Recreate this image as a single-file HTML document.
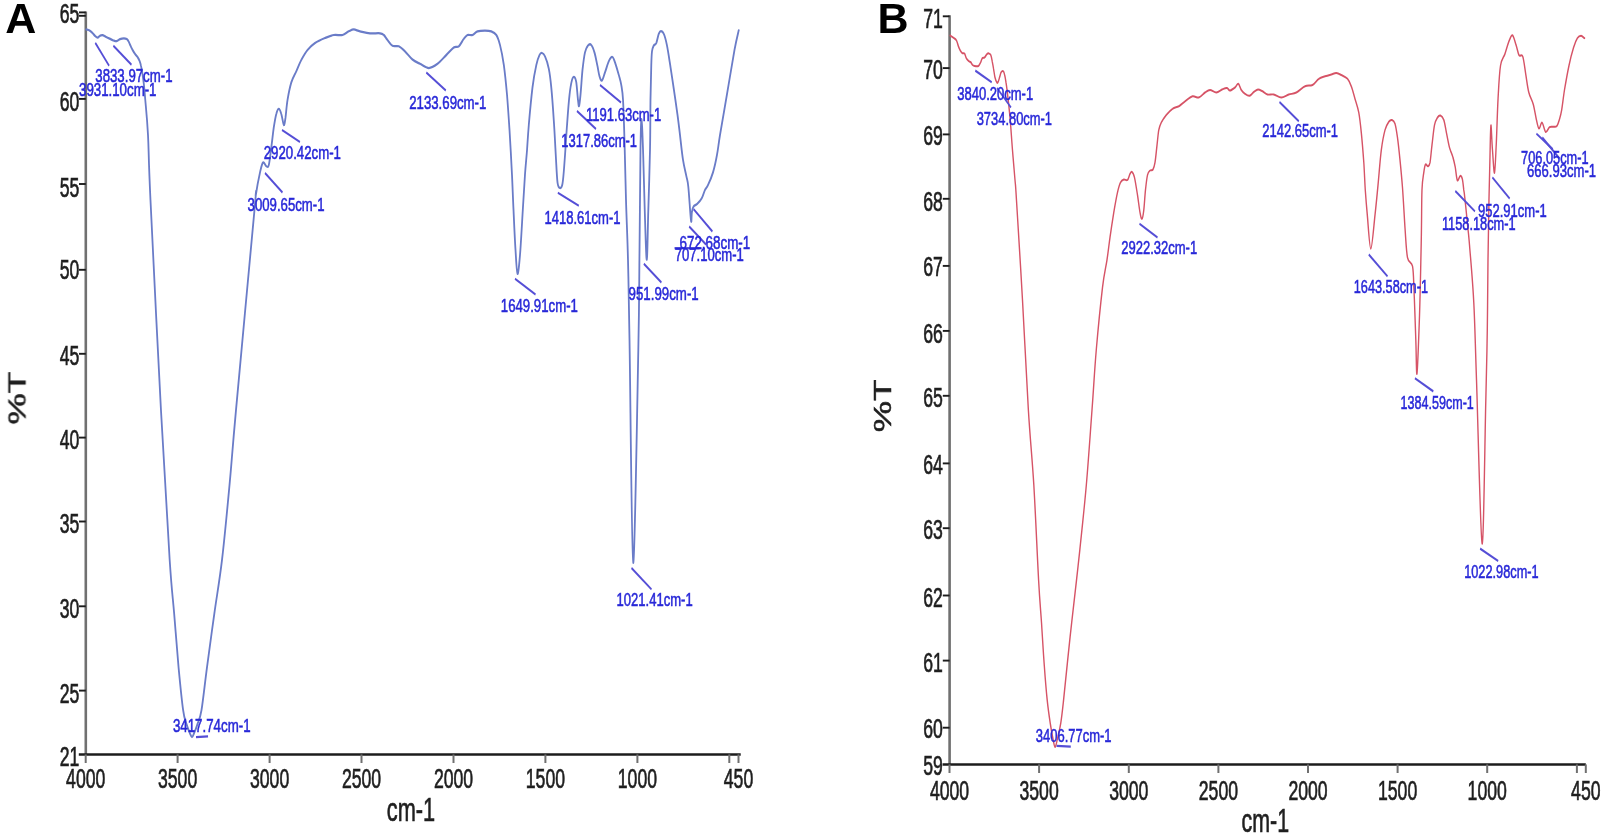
<!DOCTYPE html>
<html lang="en"><head><meta charset="utf-8"><title>FTIR spectra A and B</title>
<style>
html,body{margin:0;padding:0;background:#fff;}
body{width:1606px;height:839px;overflow:hidden;}
svg{display:block;}
text{font-family:"Liberation Sans",sans-serif;}
.tk{fill:#1f1f1f;font-size:28px;stroke:#1f1f1f;stroke-width:0.6px;vector-effect:non-scaling-stroke;}
.pk{fill:#2828d8;font-size:18px;stroke:#2828d8;stroke-width:0.55px;}
.ax{fill:#1f1f1f;font-size:34px;stroke:#1f1f1f;stroke-width:0.7px;}
.pt{fill:#1e1e1e;font-size:24px;stroke:#1e1e1e;stroke-width:0.5px;}
.pl{fill:#000;font-size:43px;font-weight:bold;}
</style></head><body>
<svg width="1606" height="839" viewBox="0 0 1606 839">
<rect width="1606" height="839" fill="#ffffff"/>
<g style="filter:blur(0.55px)">
<g stroke-linecap="butt" fill="none">
<line x1="85.8" y1="11.4" x2="85.8" y2="754.4" stroke="#707070" stroke-width="2.6"/>
<line x1="78.8" y1="754.4" x2="740.7" y2="754.4" stroke="#1c1c1c" stroke-width="2.5"/>
<line x1="79.0" y1="12.4" x2="85.8" y2="12.4" stroke="#1c1c1c" stroke-width="1.9"/>
<line x1="79.0" y1="15.8" x2="85.8" y2="15.8" stroke="#1c1c1c" stroke-width="1.9"/>
<line x1="79.0" y1="98.9" x2="85.8" y2="98.9" stroke="#1c1c1c" stroke-width="1.9"/>
<line x1="79.0" y1="184.0" x2="85.8" y2="184.0" stroke="#1c1c1c" stroke-width="1.9"/>
<line x1="79.0" y1="269.8" x2="85.8" y2="269.8" stroke="#1c1c1c" stroke-width="1.9"/>
<line x1="79.0" y1="353.8" x2="85.8" y2="353.8" stroke="#1c1c1c" stroke-width="1.9"/>
<line x1="79.0" y1="437.6" x2="85.8" y2="437.6" stroke="#1c1c1c" stroke-width="1.9"/>
<line x1="79.0" y1="521.5" x2="85.8" y2="521.5" stroke="#1c1c1c" stroke-width="1.9"/>
<line x1="79.0" y1="606.3" x2="85.8" y2="606.3" stroke="#1c1c1c" stroke-width="1.9"/>
<line x1="79.0" y1="690.6" x2="85.8" y2="690.6" stroke="#1c1c1c" stroke-width="1.9"/>
<line x1="85.7" y1="754.4" x2="85.7" y2="763.0" stroke="#707070" stroke-width="2"/>
<line x1="177.6" y1="754.4" x2="177.6" y2="763.0" stroke="#707070" stroke-width="2"/>
<line x1="269.6" y1="754.4" x2="269.6" y2="763.0" stroke="#707070" stroke-width="2"/>
<line x1="361.5" y1="754.4" x2="361.5" y2="763.0" stroke="#707070" stroke-width="2"/>
<line x1="453.5" y1="754.4" x2="453.5" y2="763.0" stroke="#707070" stroke-width="2"/>
<line x1="545.4" y1="754.4" x2="545.4" y2="763.0" stroke="#707070" stroke-width="2"/>
<line x1="637.4" y1="754.4" x2="637.4" y2="763.0" stroke="#707070" stroke-width="2"/>
<line x1="729.3" y1="754.4" x2="729.3" y2="763.0" stroke="#707070" stroke-width="2"/>
<line x1="738.5" y1="754.4" x2="738.5" y2="763.0" stroke="#707070" stroke-width="2"/>
</g>
<text class="tk" transform="translate(79.3 22.9) scale(0.630 1)" text-anchor="end">65</text>
<text class="tk" transform="translate(79.3 110.6) scale(0.630 1)" text-anchor="end">60</text>
<text class="tk" transform="translate(79.3 196.9) scale(0.630 1)" text-anchor="end">55</text>
<text class="tk" transform="translate(79.3 278.8) scale(0.630 1)" text-anchor="end">50</text>
<text class="tk" transform="translate(79.3 365.1) scale(0.630 1)" text-anchor="end">45</text>
<text class="tk" transform="translate(79.3 449.1) scale(0.630 1)" text-anchor="end">40</text>
<text class="tk" transform="translate(79.3 532.7) scale(0.630 1)" text-anchor="end">35</text>
<text class="tk" transform="translate(79.3 618.2) scale(0.630 1)" text-anchor="end">30</text>
<text class="tk" transform="translate(79.3 702.7) scale(0.630 1)" text-anchor="end">25</text>
<text class="tk" transform="translate(79.3 765.9) scale(0.630 1)" text-anchor="end">21</text>
<text class="tk" transform="translate(85.7 788.4) scale(0.630 1)" text-anchor="middle">4000</text>
<text class="tk" transform="translate(177.6 788.4) scale(0.630 1)" text-anchor="middle">3500</text>
<text class="tk" transform="translate(269.6 788.4) scale(0.630 1)" text-anchor="middle">3000</text>
<text class="tk" transform="translate(361.5 788.4) scale(0.630 1)" text-anchor="middle">2500</text>
<text class="tk" transform="translate(453.5 788.4) scale(0.630 1)" text-anchor="middle">2000</text>
<text class="tk" transform="translate(545.4 788.4) scale(0.630 1)" text-anchor="middle">1500</text>
<text class="tk" transform="translate(637.4 788.4) scale(0.630 1)" text-anchor="middle">1000</text>
<text class="tk" transform="translate(738.5 788.4) scale(0.630 1)" text-anchor="middle">450</text>
<g stroke-linecap="butt" fill="none">
<line x1="949.6" y1="15.3" x2="949.6" y2="764.4" stroke="#707070" stroke-width="2.6"/>
<line x1="942.6" y1="764.4" x2="1585.8" y2="764.4" stroke="#1c1c1c" stroke-width="2.5"/>
<line x1="942.8" y1="16.3" x2="949.6" y2="16.3" stroke="#1c1c1c" stroke-width="1.9"/>
<line x1="942.8" y1="68.1" x2="949.6" y2="68.1" stroke="#1c1c1c" stroke-width="1.9"/>
<line x1="942.8" y1="134.4" x2="949.6" y2="134.4" stroke="#1c1c1c" stroke-width="1.9"/>
<line x1="942.8" y1="198.8" x2="949.6" y2="198.8" stroke="#1c1c1c" stroke-width="1.9"/>
<line x1="942.8" y1="265.9" x2="949.6" y2="265.9" stroke="#1c1c1c" stroke-width="1.9"/>
<line x1="942.8" y1="330.9" x2="949.6" y2="330.9" stroke="#1c1c1c" stroke-width="1.9"/>
<line x1="942.8" y1="395.8" x2="949.6" y2="395.8" stroke="#1c1c1c" stroke-width="1.9"/>
<line x1="942.8" y1="463.4" x2="949.6" y2="463.4" stroke="#1c1c1c" stroke-width="1.9"/>
<line x1="942.8" y1="528.2" x2="949.6" y2="528.2" stroke="#1c1c1c" stroke-width="1.9"/>
<line x1="942.8" y1="595.5" x2="949.6" y2="595.5" stroke="#1c1c1c" stroke-width="1.9"/>
<line x1="942.8" y1="660.6" x2="949.6" y2="660.6" stroke="#1c1c1c" stroke-width="1.9"/>
<line x1="942.8" y1="727.7" x2="949.6" y2="727.7" stroke="#1c1c1c" stroke-width="1.9"/>
<line x1="949.5" y1="764.4" x2="949.5" y2="773.0" stroke="#707070" stroke-width="2"/>
<line x1="1039.1" y1="764.4" x2="1039.1" y2="773.0" stroke="#707070" stroke-width="2"/>
<line x1="1128.8" y1="764.4" x2="1128.8" y2="773.0" stroke="#707070" stroke-width="2"/>
<line x1="1218.4" y1="764.4" x2="1218.4" y2="773.0" stroke="#707070" stroke-width="2"/>
<line x1="1308.0" y1="764.4" x2="1308.0" y2="773.0" stroke="#707070" stroke-width="2"/>
<line x1="1397.6" y1="764.4" x2="1397.6" y2="773.0" stroke="#707070" stroke-width="2"/>
<line x1="1487.2" y1="764.4" x2="1487.2" y2="773.0" stroke="#707070" stroke-width="2"/>
<line x1="1576.9" y1="764.4" x2="1576.9" y2="773.0" stroke="#707070" stroke-width="2"/>
<line x1="1585.8" y1="764.4" x2="1585.8" y2="773.0" stroke="#707070" stroke-width="2"/>
</g>
<text class="tk" transform="translate(942.8 27.6) scale(0.630 1)" text-anchor="end">71</text>
<text class="tk" transform="translate(942.8 78.6) scale(0.630 1)" text-anchor="end">70</text>
<text class="tk" transform="translate(942.8 145.3) scale(0.630 1)" text-anchor="end">69</text>
<text class="tk" transform="translate(942.8 210.7) scale(0.630 1)" text-anchor="end">68</text>
<text class="tk" transform="translate(942.8 275.8) scale(0.630 1)" text-anchor="end">67</text>
<text class="tk" transform="translate(942.8 342.5) scale(0.630 1)" text-anchor="end">66</text>
<text class="tk" transform="translate(942.8 407.1) scale(0.630 1)" text-anchor="end">65</text>
<text class="tk" transform="translate(942.8 474.0) scale(0.630 1)" text-anchor="end">64</text>
<text class="tk" transform="translate(942.8 539.1) scale(0.630 1)" text-anchor="end">63</text>
<text class="tk" transform="translate(942.8 607.1) scale(0.630 1)" text-anchor="end">62</text>
<text class="tk" transform="translate(942.8 671.5) scale(0.630 1)" text-anchor="end">61</text>
<text class="tk" transform="translate(942.8 738.4) scale(0.630 1)" text-anchor="end">60</text>
<text class="tk" transform="translate(942.8 775.0) scale(0.630 1)" text-anchor="end">59</text>
<text class="tk" transform="translate(949.5 799.5) scale(0.630 1)" text-anchor="middle">4000</text>
<text class="tk" transform="translate(1039.1 799.5) scale(0.630 1)" text-anchor="middle">3500</text>
<text class="tk" transform="translate(1128.8 799.5) scale(0.630 1)" text-anchor="middle">3000</text>
<text class="tk" transform="translate(1218.4 799.5) scale(0.630 1)" text-anchor="middle">2500</text>
<text class="tk" transform="translate(1308.0 799.5) scale(0.630 1)" text-anchor="middle">2000</text>
<text class="tk" transform="translate(1397.6 799.5) scale(0.630 1)" text-anchor="middle">1500</text>
<text class="tk" transform="translate(1487.2 799.5) scale(0.630 1)" text-anchor="middle">1000</text>
<text class="tk" transform="translate(1585.8 799.5) scale(0.630 1)" text-anchor="middle">450</text>
<g transform="scale(0.800 1)" fill="none" stroke-linejoin="round" stroke-linecap="round">
<path d="M107.8 29.5C108.4 29.7 110.6 29.9 111.9 30.5C113.2 31.1 114.3 31.9 115.5 32.9C116.7 33.9 118.0 35.4 119.1 36.2C120.2 37.0 121.0 37.7 122.0 37.6C123.0 37.5 124.0 36.1 125.0 35.7C126.0 35.3 126.8 34.9 128.0 35.1C129.2 35.3 130.6 36.1 132.1 36.7C133.6 37.3 135.4 38.0 137.0 38.6C138.6 39.2 140.3 40.1 141.8 40.5C143.2 40.9 144.5 41.4 145.9 41.2C147.2 41.0 148.5 39.6 150.0 39.1C151.5 38.6 153.5 38.3 154.9 38.3C156.3 38.3 157.4 38.6 158.4 39.1C159.4 39.6 160.0 40.3 160.7 41.4C161.5 42.5 162.2 44.2 163.1 45.7C164.0 47.2 165.1 49.1 166.1 50.5C167.1 51.9 168.1 53.2 169.1 54.3C170.1 55.4 171.2 56.1 172.1 57.2C173.0 58.3 173.8 59.6 174.5 61.0C175.2 62.4 175.7 63.7 176.2 65.8C176.8 67.9 177.4 70.2 178.0 73.4C178.6 76.6 179.3 80.4 179.9 84.8C180.5 89.2 180.8 91.6 181.6 100.0C182.5 108.4 183.9 118.3 185.0 135.0C186.1 151.7 185.4 154.2 188.1 200.0C190.8 245.8 197.2 350.0 201.2 410.0C205.2 470.0 209.4 526.0 212.1 560.0C214.9 594.0 215.9 595.8 217.7 613.7C219.6 631.6 221.4 651.2 223.2 667.3C225.1 683.3 227.2 700.5 228.9 710.0C230.5 719.5 231.7 720.2 233.1 724.0C234.5 727.8 236.1 730.8 237.2 733.0C238.4 735.2 239.1 737.2 240.0 737.2C240.9 737.2 241.6 735.2 242.7 733.0C243.9 730.8 245.4 727.8 246.9 724.0C248.4 720.2 249.9 719.5 251.9 710.0C253.9 700.5 256.1 683.0 258.8 667.0C261.4 651.0 264.8 631.5 267.9 613.7C271.0 595.9 274.3 581.5 277.5 560.0C280.7 538.5 284.0 510.0 286.9 485.0C289.8 460.0 289.8 455.8 295.0 410.0C300.2 364.2 314.0 245.8 318.1 210.0C322.2 174.2 318.6 201.2 319.8 195.0C320.9 188.8 323.5 177.9 325.0 172.5C326.5 167.1 327.4 163.5 328.8 162.5C330.1 161.5 331.7 165.9 332.9 166.3C334.1 166.7 335.0 168.1 336.0 165.0C337.0 161.9 338.1 153.8 339.1 147.5C340.2 141.2 341.2 133.1 342.2 127.5C343.3 121.9 344.3 116.9 345.4 113.8C346.4 110.7 347.5 108.8 348.5 108.8C349.5 108.8 350.6 111.1 351.6 113.8C352.7 116.5 353.9 124.4 354.8 125.0C355.6 125.6 356.1 121.7 356.9 117.5C357.6 113.3 358.2 105.8 359.4 100.0C360.6 94.2 362.3 87.3 364.1 82.5C366.0 77.7 368.3 75.0 370.4 71.3C372.5 67.5 374.3 63.5 376.6 60.0C379.0 56.5 381.5 52.8 384.4 50.0C387.2 47.2 390.1 45.0 393.8 43.0C397.4 41.0 402.3 39.3 406.2 38.0C410.2 36.7 413.6 35.5 417.2 35.0C420.9 34.5 425.0 35.6 428.1 35.0C431.2 34.4 433.6 32.2 436.0 31.3C438.4 30.4 439.9 29.5 442.2 29.5C444.6 29.5 446.6 30.7 450.0 31.3C453.4 31.9 458.3 33.0 462.5 33.3C466.7 33.6 472.1 33.0 475.0 33.3C477.9 33.6 478.2 33.9 479.8 35.0C481.3 36.1 482.6 38.2 484.4 40.0C486.2 41.8 488.3 44.8 490.6 45.8C493.0 46.8 495.9 45.4 498.5 46.3C501.1 47.2 503.4 49.1 506.2 51.3C509.1 53.5 512.5 57.4 515.6 59.5C518.8 61.6 521.6 62.4 525.0 63.8C528.4 65.2 532.4 68.0 536.0 68.0C539.6 68.0 543.2 66.0 546.9 63.8C550.5 61.6 554.5 57.7 557.9 55.0C561.3 52.3 564.6 49.0 567.2 47.5C569.9 46.0 571.4 47.8 573.5 46.3C575.6 44.8 577.9 40.7 579.8 38.8C581.6 36.9 582.6 35.6 584.4 35.0C586.2 34.4 588.5 35.6 590.6 35.0C592.7 34.4 594.3 32.0 596.9 31.3C599.5 30.6 603.4 30.5 606.2 30.5C609.1 30.5 611.8 30.6 614.1 31.3C616.5 32.0 618.6 32.7 620.4 35.0C622.2 37.3 623.4 40.0 625.0 45.0C626.6 50.0 628.3 56.7 629.8 65.0C631.2 73.3 632.6 84.2 633.8 95.0C634.9 105.8 635.8 116.7 636.9 130.0C637.9 143.3 639.2 161.7 640.0 175.0C640.8 188.3 641.1 197.5 641.9 210.0C642.6 222.5 643.5 239.4 644.4 250.0C645.2 260.6 645.9 273.0 646.9 273.8C647.8 274.6 648.9 265.6 650.0 255.0C651.1 244.4 652.5 223.3 653.5 210.0C654.5 196.7 655.4 185.0 656.2 175.0C657.1 165.0 658.0 158.3 658.8 150.0C659.5 141.7 659.9 135.4 661.0 125.0C662.1 114.6 664.1 97.5 665.6 87.5C667.2 77.5 668.9 70.4 670.4 65.0C671.8 59.6 673.2 57.0 674.4 55.0C675.6 53.0 676.4 52.8 677.5 53.0C678.6 53.2 679.8 53.7 681.2 56.3C682.7 58.9 684.7 63.6 686.0 68.8C687.3 74.0 688.1 79.0 689.1 87.5C690.2 96.0 691.3 108.8 692.2 120.0C693.2 131.2 694.0 144.6 694.7 155.0C695.5 165.4 696.0 177.0 696.9 182.5C697.8 188.0 699.0 187.8 700.0 188.0C701.0 188.2 702.2 188.1 703.1 183.8C704.1 179.6 704.7 172.3 705.6 162.5C706.6 152.7 707.7 136.2 708.8 125.0C709.8 113.8 710.8 102.5 711.9 95.0C712.9 87.5 714.0 83.0 715.0 80.0C716.0 77.0 717.0 76.6 717.9 77.0C718.8 77.4 719.6 78.7 720.4 82.5C721.1 86.3 721.9 96.1 722.5 100.0C723.1 103.9 723.2 106.8 723.8 106.0C724.3 105.2 724.9 101.0 725.6 95.0C726.4 89.0 727.2 77.1 728.1 70.0C729.1 62.9 730.1 56.6 731.2 52.5C732.4 48.4 733.7 46.8 735.0 45.5C736.3 44.2 737.8 43.8 739.1 45.0C740.5 46.2 741.8 49.0 743.1 52.5C744.4 56.0 745.8 62.3 746.9 66.3C747.9 70.3 748.4 73.9 749.4 76.3C750.3 78.7 751.4 81.1 752.5 80.5C753.6 79.9 754.8 75.7 756.2 72.5C757.7 69.3 759.5 63.9 761.0 61.3C762.5 58.7 764.1 56.8 765.4 57.0C766.7 57.2 767.4 59.5 768.8 62.5C770.1 65.5 772.2 71.2 773.5 75.0C774.8 78.8 775.7 80.8 776.6 85.0C777.5 89.2 778.1 90.8 778.8 100.0C779.4 109.2 780.0 123.3 780.6 140.0C781.2 156.7 781.8 180.0 782.5 200.0C783.2 220.0 784.3 236.7 785.0 260.0C785.7 283.3 785.8 289.5 786.9 340.0C788.0 390.5 789.7 561.1 791.5 562.8C793.3 564.5 796.6 402.1 797.9 350.0C799.2 297.9 798.9 283.3 799.4 250.0C799.8 216.7 800.3 171.5 800.6 150.0C801.0 128.5 801.2 125.2 801.5 121.0C801.8 116.8 802.1 120.2 802.5 125.0C802.9 129.8 802.8 127.8 803.8 150.0C804.7 172.2 807.0 248.0 808.1 258.0C809.2 268.0 809.6 228.0 810.4 210.0C811.1 192.0 812.0 168.3 812.5 150.0C813.0 131.7 812.9 114.2 813.1 100.0C813.4 85.8 813.8 73.1 814.1 65.0C814.4 56.9 814.5 54.5 815.0 51.3C815.5 48.1 816.4 47.0 817.2 45.6C818.1 44.2 819.3 45.0 820.4 43.0C821.4 41.0 822.5 35.8 823.5 33.8C824.5 31.8 825.1 31.0 826.1 31.0C827.2 31.0 828.5 31.5 829.7 33.8C831.0 36.1 832.3 40.0 833.6 45.0C834.9 50.0 836.1 56.5 837.5 63.8C838.9 71.1 840.7 80.3 842.2 88.8C843.8 97.3 845.6 107.3 846.9 115.0C848.2 122.7 848.9 127.5 850.0 135.0C851.1 142.5 852.4 153.2 853.8 160.0C855.1 166.8 856.8 171.5 857.9 176.0C859.0 180.5 859.4 179.3 860.4 186.8C861.4 194.3 863.0 216.6 863.8 220.8C864.5 225.0 864.3 214.3 864.9 211.9C865.4 209.5 865.9 207.8 867.0 206.5C868.1 205.2 869.8 205.2 871.5 203.8C873.2 202.5 875.5 200.7 877.1 198.4C878.8 196.1 879.9 192.2 881.2 190.0C882.6 187.8 883.3 187.9 885.0 185.0C886.7 182.1 889.4 177.5 891.2 172.5C893.1 167.5 894.8 161.2 896.2 155.0C897.7 148.8 897.9 145.4 900.0 135.0C902.1 124.6 906.1 106.7 909.1 92.5C912.1 78.3 915.8 60.4 918.1 50.0C920.5 39.6 922.5 33.6 923.4 30.3" stroke="#6a7cc8" stroke-width="2.25"/>
</g>
<g transform="scale(0.700 1)" fill="none" stroke-linejoin="round" stroke-linecap="round">
<path d="M1357.4 35.5C1358.2 35.9 1360.8 37.1 1362.3 37.9C1363.8 38.7 1365.2 38.9 1366.3 40.3C1367.4 41.6 1368.1 44.3 1369.0 46.0C1369.9 47.7 1370.9 49.5 1371.9 50.7C1372.8 51.9 1373.6 52.6 1374.6 53.1C1375.6 53.6 1376.9 52.7 1377.9 53.6C1378.9 54.5 1379.5 57.1 1380.6 58.4C1381.6 59.7 1383.0 60.6 1384.0 61.2C1385.0 61.8 1385.8 61.6 1386.7 62.2C1387.6 62.8 1388.5 64.4 1389.4 65.0C1390.4 65.6 1390.9 65.8 1392.3 66.0C1393.7 66.2 1396.3 66.6 1397.7 66.0C1399.2 65.4 1400.1 63.5 1401.0 62.2C1401.9 60.9 1402.2 59.2 1403.1 58.4C1404.1 57.6 1405.5 58.1 1406.6 57.4C1407.7 56.7 1408.8 54.8 1409.9 54.1C1410.9 53.4 1411.8 53.2 1412.7 53.4C1413.6 53.5 1414.6 53.7 1415.4 55.0C1416.2 56.3 1416.8 58.9 1417.4 61.2C1418.1 63.5 1418.8 66.2 1419.4 68.9C1420.1 71.6 1420.6 75.1 1421.4 77.4C1422.2 79.7 1423.5 82.1 1424.3 82.7C1425.1 83.3 1425.6 82.2 1426.3 81.2C1427.0 80.2 1427.6 78.0 1428.3 76.5C1429.0 75.0 1429.5 73.1 1430.3 72.2C1431.1 71.3 1432.3 70.8 1433.1 71.2C1434.0 71.6 1434.5 72.8 1435.1 74.6C1435.8 76.4 1436.5 79.3 1437.1 82.2C1437.8 85.1 1438.0 86.1 1439.0 92.0C1440.0 97.9 1441.6 107.8 1442.9 117.5C1444.1 127.2 1445.2 139.6 1446.4 150.0C1447.6 160.4 1449.0 171.7 1450.0 180.0C1451.0 188.3 1450.4 180.0 1452.1 200.0C1453.9 220.0 1457.9 265.0 1460.7 300.0C1463.5 335.0 1466.5 379.2 1469.1 410.0C1471.8 440.8 1474.4 456.7 1476.9 485.0C1479.3 513.3 1481.9 557.0 1483.7 580.0C1485.5 603.0 1486.5 608.7 1487.9 623.0C1489.2 637.3 1490.5 653.2 1491.9 666.0C1493.2 678.8 1494.6 690.5 1496.0 700.0C1497.4 709.5 1498.9 716.5 1500.3 723.0C1501.7 729.5 1503.1 735.0 1504.3 739.0C1505.5 743.0 1506.2 747.1 1507.3 747.1C1508.3 747.1 1509.2 743.0 1510.6 739.0C1511.9 735.0 1514.0 729.5 1515.4 723.0C1516.9 716.5 1517.2 714.3 1519.4 700.0C1521.6 685.7 1525.6 657.0 1528.7 637.0C1531.8 617.0 1535.5 594.5 1537.9 580.0C1540.2 565.5 1540.2 565.8 1542.6 550.0C1544.9 534.2 1549.0 508.3 1551.9 485.0C1554.8 461.7 1557.6 432.5 1560.0 410.0C1562.4 387.5 1563.6 370.4 1566.1 350.0C1568.6 329.6 1572.5 302.5 1575.0 287.5C1577.5 272.5 1579.6 268.3 1581.4 260.0C1583.2 251.7 1584.1 245.4 1585.7 237.5C1587.3 229.6 1589.4 220.0 1591.1 212.5C1592.9 205.0 1594.8 197.5 1596.4 192.5C1598.0 187.5 1599.2 184.7 1600.7 182.5C1602.2 180.3 1603.8 179.9 1605.4 179.5C1607.1 179.1 1609.2 180.9 1610.7 180.0C1612.2 179.1 1613.2 175.2 1614.3 173.8C1615.4 172.4 1616.1 171.2 1617.1 171.8C1618.2 172.4 1619.4 173.6 1620.7 177.5C1622.0 181.4 1623.7 189.2 1625.0 195.0C1626.3 200.8 1627.5 208.5 1628.6 212.5C1629.6 216.5 1630.5 219.2 1631.4 218.8C1632.3 218.4 1633.2 214.8 1634.0 210.0C1634.8 205.2 1635.5 195.8 1636.4 190.0C1637.3 184.2 1638.2 178.2 1639.3 175.0C1640.4 171.8 1641.5 171.4 1642.9 170.5C1644.2 169.6 1646.0 170.8 1647.1 169.5C1648.3 168.2 1649.0 166.6 1650.0 162.5C1651.0 158.4 1652.0 150.4 1652.9 145.0C1653.8 139.6 1654.4 133.8 1655.4 130.0C1656.5 126.2 1657.2 125.0 1659.0 122.5C1660.8 120.0 1663.5 117.3 1666.1 115.0C1668.8 112.7 1672.0 110.2 1675.0 108.8C1678.0 107.3 1681.0 107.5 1684.0 106.3C1687.0 105.0 1689.6 103.0 1692.9 101.3C1696.1 99.6 1700.3 96.9 1703.6 96.3C1706.9 95.7 1709.6 98.1 1712.6 97.5C1715.5 96.9 1718.8 93.8 1721.4 92.5C1724.1 91.2 1725.9 90.0 1728.6 90.0C1731.3 90.0 1734.6 92.6 1737.6 92.5C1740.5 92.4 1743.9 90.0 1746.4 89.3C1749.0 88.5 1751.1 87.8 1752.9 88.0C1754.6 88.2 1755.2 90.6 1757.1 90.5C1759.0 90.4 1762.3 88.6 1764.3 87.5C1766.3 86.4 1767.5 83.4 1769.0 83.8C1770.5 84.2 1771.7 88.3 1773.3 90.0C1774.9 91.7 1776.6 92.8 1778.6 93.8C1780.5 94.8 1782.9 96.1 1785.0 95.8C1787.1 95.5 1789.1 93.0 1791.1 92.0C1793.2 91.0 1795.1 89.6 1797.1 89.5C1799.2 89.4 1801.3 90.5 1803.6 91.3C1805.8 92.1 1808.0 94.0 1810.7 94.5C1813.4 95.0 1816.4 94.0 1819.7 94.5C1823.0 95.0 1826.9 97.5 1830.4 97.5C1834.0 97.5 1837.6 95.3 1841.1 94.5C1844.7 93.7 1848.0 93.9 1851.9 92.5C1855.7 91.1 1860.4 87.5 1864.3 86.3C1868.1 85.0 1871.7 86.2 1875.0 85.0C1878.3 83.8 1881.0 80.2 1884.0 78.8C1887.0 77.3 1889.9 77.0 1892.9 76.3C1895.8 75.6 1899.2 75.0 1901.9 74.5C1904.5 74.0 1906.6 72.9 1909.0 73.0C1911.4 73.1 1913.5 74.0 1916.1 75.0C1918.8 76.0 1922.6 76.9 1925.0 78.8C1927.4 80.7 1928.6 83.0 1930.4 86.3C1932.2 89.6 1933.9 94.4 1935.7 98.8C1937.5 103.2 1939.6 106.9 1941.1 112.5C1942.6 118.1 1943.5 124.2 1944.7 132.5C1945.9 140.8 1947.3 152.9 1948.3 162.5C1949.2 172.1 1949.6 181.2 1950.4 190.0C1951.3 198.8 1952.0 205.2 1953.3 215.0C1954.6 224.8 1956.5 248.8 1958.3 248.8C1960.1 248.8 1962.6 225.6 1964.3 215.0C1966.0 204.4 1967.1 195.8 1968.6 185.0C1970.1 174.2 1971.6 159.2 1973.3 150.0C1975.0 140.8 1976.8 134.7 1978.6 130.0C1980.4 125.3 1982.3 123.5 1984.0 121.8C1985.7 120.1 1987.1 119.7 1988.6 120.0C1990.0 120.3 1991.5 120.9 1992.9 123.8C1994.2 126.7 1995.2 131.5 1996.4 137.5C1997.6 143.5 1998.8 151.6 2000.0 160.0C2001.2 168.4 2002.4 176.8 2003.6 188.0C2004.8 199.2 2006.0 215.9 2007.1 227.5C2008.3 239.1 2008.9 251.0 2010.7 257.5C2012.5 264.0 2016.3 260.9 2017.9 266.3C2019.4 271.7 2019.2 277.7 2020.0 290.0C2020.8 302.3 2021.9 326.1 2022.6 340.0C2023.3 353.9 2023.4 377.7 2024.3 373.5C2025.2 369.3 2026.8 337.2 2027.9 315.0C2028.9 292.8 2029.8 260.8 2030.4 240.0C2031.0 219.2 2030.8 201.2 2031.4 190.0C2032.0 178.8 2033.2 176.8 2034.0 172.5C2034.8 168.2 2035.4 165.5 2036.4 164.5C2037.4 163.5 2038.9 166.6 2040.0 166.3C2041.1 166.0 2041.9 166.1 2042.9 162.5C2043.8 158.9 2044.6 151.2 2045.7 145.0C2046.8 138.8 2048.0 129.6 2049.3 125.0C2050.6 120.4 2052.2 119.1 2053.6 117.5C2055.0 115.9 2056.2 115.1 2057.7 115.5C2059.2 115.9 2061.1 117.1 2062.6 120.0C2064.0 122.9 2065.1 128.4 2066.4 133.0C2067.8 137.6 2069.2 143.4 2070.7 147.5C2072.3 151.6 2074.4 154.2 2075.7 157.5C2077.1 160.8 2077.8 163.2 2078.9 167.0C2079.9 170.8 2080.7 178.8 2081.9 180.3C2083.0 181.8 2084.8 176.2 2086.0 175.9C2087.2 175.7 2088.1 176.5 2089.0 178.8C2089.9 181.2 2090.6 187.0 2091.1 190.0C2091.7 193.0 2091.5 190.6 2092.4 196.7C2093.4 202.8 2095.6 218.4 2096.7 226.5C2097.9 234.6 2097.8 232.3 2099.3 245.0C2100.7 257.7 2103.8 280.0 2105.4 302.5C2107.1 325.0 2107.3 339.8 2109.3 380.0C2111.3 420.2 2115.1 540.3 2117.3 543.6C2119.5 546.9 2121.3 435.6 2122.6 400.0C2123.8 364.4 2124.2 353.3 2124.7 330.0C2125.2 306.7 2125.3 281.7 2125.7 260.0C2126.1 238.3 2126.7 217.5 2127.1 200.0C2127.6 182.5 2128.1 167.5 2128.6 155.0C2129.0 142.5 2129.3 126.2 2129.9 125.2C2130.4 124.2 2131.1 141.1 2132.0 149.0C2132.9 156.9 2134.1 173.9 2135.0 172.9C2135.9 171.9 2136.7 155.4 2137.6 143.0C2138.4 130.6 2139.1 111.3 2140.1 98.4C2141.1 85.5 2141.9 73.0 2143.6 65.6C2145.2 58.1 2148.0 57.7 2150.0 53.7C2152.0 49.7 2153.7 44.8 2155.4 41.7C2157.2 38.6 2158.9 34.7 2160.6 35.2C2162.3 35.7 2164.1 41.4 2165.7 44.7C2167.3 48.0 2168.4 53.1 2170.0 55.1C2171.6 57.1 2173.8 53.4 2175.4 56.6C2177.0 59.8 2178.3 68.5 2179.7 74.5C2181.1 80.5 2182.2 87.4 2184.0 92.4C2185.8 97.4 2188.6 99.7 2190.4 104.3C2192.2 108.9 2193.5 115.8 2194.9 119.8C2196.2 123.8 2197.2 128.1 2198.6 128.6C2199.9 129.1 2201.3 122.0 2202.9 122.6C2204.5 123.2 2206.4 131.2 2208.1 132.0C2209.9 132.8 2211.7 128.1 2213.6 127.2C2215.4 126.3 2217.5 127.0 2219.3 126.8C2221.0 126.6 2222.8 127.2 2224.1 126.0C2225.5 124.8 2226.5 122.4 2227.6 119.8C2228.7 117.2 2229.6 115.4 2230.9 110.3C2232.1 105.2 2233.4 96.9 2235.1 89.4C2236.9 82.0 2239.3 72.5 2241.4 65.6C2243.5 58.6 2245.9 52.3 2247.9 47.7C2249.9 43.1 2251.6 40.2 2253.4 38.2C2255.2 36.2 2256.9 35.8 2258.6 35.8C2260.3 35.8 2262.7 37.8 2263.6 38.2" stroke="#d65366" stroke-width="2"/>
</g>
<g transform="scale(0.660 1)" stroke="#554ed6" stroke-width="2.3" stroke-linecap="butt">
<line x1="144.4" y1="42.9" x2="165.3" y2="65.8"/>
<line x1="171.8" y1="45.7" x2="199.2" y2="64.8"/>
<line x1="427.3" y1="130.0" x2="454.5" y2="142.0"/>
<line x1="401.5" y1="173.0" x2="428.0" y2="192.5"/>
<line x1="297.0" y1="737.2" x2="315.2" y2="736.3"/>
<line x1="645.9" y1="72.5" x2="675.5" y2="90.5"/>
<line x1="874.2" y1="111.0" x2="903.0" y2="129.0"/>
<line x1="909.1" y1="85.0" x2="940.9" y2="102.5"/>
<line x1="845.2" y1="192.8" x2="877.0" y2="205.7"/>
<line x1="780.3" y1="278.8" x2="811.4" y2="294.5"/>
<line x1="975.5" y1="263.8" x2="1002.1" y2="282.5"/>
<line x1="956.8" y1="568.0" x2="987.1" y2="589.4"/>
<line x1="1044.2" y1="226.5" x2="1069.7" y2="244.5"/>
<line x1="1022.0" y1="248.2" x2="1059.8" y2="248.2"/>
<line x1="1050.9" y1="209.2" x2="1079.4" y2="231.5"/>
<line x1="1477.7" y1="70.6" x2="1502.6" y2="82.2"/>
<line x1="1510.6" y1="88.0" x2="1531.8" y2="107.5"/>
<line x1="1600.9" y1="745.8" x2="1622.4" y2="746.7"/>
<line x1="1726.5" y1="223.8" x2="1753.8" y2="237.5"/>
<line x1="1938.6" y1="102.0" x2="1967.9" y2="121.3"/>
<line x1="2073.9" y1="254.5" x2="2102.3" y2="276.3"/>
<line x1="2143.8" y1="378.3" x2="2171.7" y2="391.4"/>
<line x1="2205.0" y1="191.0" x2="2234.8" y2="211.4"/>
<line x1="2261.2" y1="177.3" x2="2287.4" y2="198.6"/>
<line x1="2242.6" y1="548.6" x2="2270.0" y2="561.0"/>
<line x1="2327.9" y1="133.6" x2="2352.7" y2="149.3"/>
<line x1="2336.8" y1="137.5" x2="2362.9" y2="158.5"/>
</g>
<text class="pk" x="95.3" y="81.6" textLength="77.2" lengthAdjust="spacingAndGlyphs">3833.97cm-1</text>
<text class="pk" x="79.0" y="95.5" textLength="77.5" lengthAdjust="spacingAndGlyphs">3931.10cm-1</text>
<text class="pk" x="263.7" y="159.3" textLength="77.3" lengthAdjust="spacingAndGlyphs">2920.42cm-1</text>
<text class="pk" x="247.6" y="210.7" textLength="76.9" lengthAdjust="spacingAndGlyphs">3009.65cm-1</text>
<text class="pk" x="172.9" y="731.6" textLength="77.7" lengthAdjust="spacingAndGlyphs">3417.74cm-1</text>
<text class="pk" x="409.2" y="108.7" textLength="77.2" lengthAdjust="spacingAndGlyphs">2133.69cm-1</text>
<text class="pk" x="561.3" y="146.5" textLength="75.7" lengthAdjust="spacingAndGlyphs">1317.86cm-1</text>
<text class="pk" x="586.0" y="120.7" textLength="75.2" lengthAdjust="spacingAndGlyphs">1191.63cm-1</text>
<text class="pk" x="544.5" y="223.6" textLength="76.0" lengthAdjust="spacingAndGlyphs">1418.61cm-1</text>
<text class="pk" x="500.8" y="312.0" textLength="77.1" lengthAdjust="spacingAndGlyphs">1649.91cm-1</text>
<text class="pk" x="628.6" y="300.3" textLength="70.1" lengthAdjust="spacingAndGlyphs">951.99cm-1</text>
<text class="pk" x="616.5" y="606.3" textLength="76.2" lengthAdjust="spacingAndGlyphs">1021.41cm-1</text>
<text class="pk" x="679.5" y="249.3" textLength="70.7" lengthAdjust="spacingAndGlyphs">672.68cm-1</text>
<text class="pk" x="674.7" y="261.2" textLength="69.2" lengthAdjust="spacingAndGlyphs">707.10cm-1</text>
<text class="pk" x="957.2" y="100.0" textLength="76.0" lengthAdjust="spacingAndGlyphs">3840.20cm-1</text>
<text class="pk" x="976.7" y="125.3" textLength="75.3" lengthAdjust="spacingAndGlyphs">3734.80cm-1</text>
<text class="pk" x="1035.8" y="741.7" textLength="75.8" lengthAdjust="spacingAndGlyphs">3406.77cm-1</text>
<text class="pk" x="1121.2" y="253.7" textLength="76.0" lengthAdjust="spacingAndGlyphs">2922.32cm-1</text>
<text class="pk" x="1262.3" y="137.1" textLength="75.7" lengthAdjust="spacingAndGlyphs">2142.65cm-1</text>
<text class="pk" x="1353.8" y="293.3" textLength="74.2" lengthAdjust="spacingAndGlyphs">1643.58cm-1</text>
<text class="pk" x="1400.6" y="409.3" textLength="73.2" lengthAdjust="spacingAndGlyphs">1384.59cm-1</text>
<text class="pk" x="1441.9" y="230.4" textLength="73.7" lengthAdjust="spacingAndGlyphs">1158.18cm-1</text>
<text class="pk" x="1478.0" y="216.5" textLength="68.7" lengthAdjust="spacingAndGlyphs">952.91cm-1</text>
<text class="pk" x="1464.2" y="578.2" textLength="74.4" lengthAdjust="spacingAndGlyphs">1022.98cm-1</text>
<text class="pk" x="1521.1" y="164.2" textLength="67.5" lengthAdjust="spacingAndGlyphs">706.05cm-1</text>
<text class="pk" x="1527.0" y="176.5" textLength="69.0" lengthAdjust="spacingAndGlyphs">666.93cm-1</text>
<text class="ax" x="386.8" y="821" textLength="48.4" lengthAdjust="spacingAndGlyphs">cm-1</text>
<text class="ax" x="1241.5" y="832.2" textLength="47.6" lengthAdjust="spacingAndGlyphs">cm-1</text>
<text class="pt" transform="translate(25.5 424.6) rotate(-90) scale(1.47 1)">%T</text>
<text class="pt" transform="translate(890.8 432.3) rotate(-90) scale(1.47 1)">%T</text>
<text class="pl" x="5.2" y="33.4">A</text>
<text class="pl" x="877.4" y="33.4">B</text>
</g>
</svg></body></html>
